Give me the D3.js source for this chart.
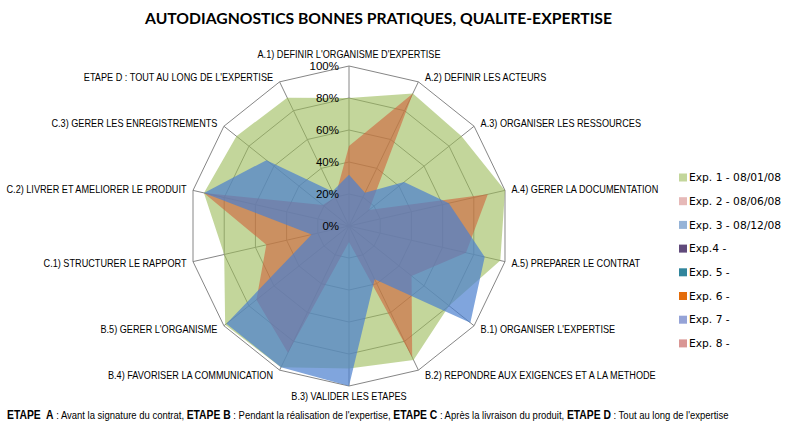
<!DOCTYPE html>
<html>
<head>
<meta charset="utf-8">
<script src="https://cdn.jsdelivr.net/npm/d3@7"></script>
<style>
  html, body { margin: 0; padding: 0; background: #fff; }
  svg { display: block; }
</style>
</head>
<body>
<svg id="chart" width="789" height="430"></svg>
<script>
// ---------- data ----------
const categories = [
  "A.1) DEFINIR L'ORGANISME D'EXPERTISE",
  "A.2) DEFINIR LES ACTEURS",
  "A.3) ORGANISER LES RESSOURCES",
  "A.4) GERER LA DOCUMENTATION",
  "A.5) PREPARER LE CONTRAT",
  "B.1) ORGANISER L'EXPERTISE",
  "B.2) REPONDRE AUX EXIGENCES ET A LA METHODE",
  "B.3) VALIDER LES ETAPES",
  "B.4) FAVORISER LA COMMUNICATION",
  "B.5) GERER L'ORGANISME",
  "C.1) STRUCTURER LE RAPPORT",
  "C.2) LIVRER ET AMELIORER LE PRODUIT",
  "C.3) GERER LES ENREGISTREMENTS",
  "ETAPE D : TOUT AU LONG DE L'EXPERTISE"
];
const exp1 = [80, 92, 90, 100, 97, 80, 93, 89, 98, 99, 80, 93, 90, 89];
const exp2 = [50, 92, 16, 89, 75, 50, 91, 10, 88, 74, 53, 93, 21, 20];
const exp3 = [32, 23, 44, 64, 87, 97, 37, 100, 98, 98, 24, 93, 66, 24];
const exp4 = [];
const exp5 = [];
const exp6 = [];
const exp7 = [];
const exp8 = [];
const seriesNames = ["Exp. 1 - 08/01/08", "Exp. 2 - 08/06/08", "Exp. 3 - 08/12/08",
  "Exp.4 -", "Exp. 5 -", "Exp. 6 -", "Exp. 7 -", "Exp. 8 -"];
const seriesValues = [exp1, exp2, exp3, exp4, exp5, exp6, exp7, exp8];
const tickValues = [0, 20, 40, 60, 80, 100];
const tickLabels = ["0%", "20%", "40%", "60%", "80%", "100%"];
const titleText = "AUTODIAGNOSTICS BONNES PRATIQUES, QUALITE-EXPERTISE";
const footerParts = [
  ["ETAPE  A", true], [" : Avant la signature du contrat, ", false],
  ["ETAPE B", true], [" : Pendant la réalisation de l'expertise, ", false],
  ["ETAPE C", true], [" : Après la livraison du produit, ", false],
  ["ETAPE D", true], [" : Tout au long de l'expertise", false]
];

// ---------- styles ----------
const fillColors = ["#9bbb59", "#d0603a", "#4a7fcf", "#8064a2", "#4bacc6", "#f79646", "#7f8fcf", "#c0504d"];
const fillOpacity = [0.6, 0.6, 0.7, 0.6, 0.6, 0.6, 0.6, 0.6];
const legendColors = ["#c3d69b", "#e6b9b8", "#95b3d7", "#604a7b", "#31859c", "#e46c0a", "#95a3d7", "#d99694"];
const narrowFont = "'Liberation Sans', Arial, sans-serif";

const svg = d3.select("#chart");
svg.append("rect").attr("width", 789).attr("height", 430).attr("fill", "#fff");

const cx = 349, cy = 226, R = 160;
const n = categories.length;
const r = d3.scaleLinear().domain([0, 100]).range([0, R]);
const angle = d3.scaleLinear().domain([0, n]).range([0, 2 * Math.PI]);

const g = svg.append("g").attr("transform", `translate(${cx},${cy})`);

// grid polygons
const gridLine = d3.lineRadial().curve(d3.curveLinearClosed)
  .angle((d, i) => angle(i)).radius(d => r(d));
tickValues.filter(v => v > 0).forEach(v => {
  g.append("path").attr("d", gridLine(categories.map(() => v)))
    .attr("fill", "none").attr("stroke", "#868686").attr("stroke-width", 1);
});
// spokes
categories.forEach((c, i) => {
  const a = angle(i);
  g.append("line").attr("x1", 0).attr("y1", 0)
    .attr("x2", r(100) * Math.sin(a)).attr("y2", -r(100) * Math.cos(a))
    .attr("stroke", "#868686").attr("stroke-width", 1);
});

// series
const area = d3.lineRadial().curve(d3.curveLinearClosed)
  .angle((d, i) => angle(i)).radius(d => r(d));
seriesValues.forEach((vals, s) => {
  if (!vals.length) return;
  g.append("path").attr("d", area(vals))
    .attr("fill", fillColors[s]).attr("fill-opacity", fillOpacity[s]).attr("stroke", "none");
});

// tick labels
tickValues.forEach((v, i) => {
  g.append("text").attr("x", -10).attr("y", -r(v)).attr("dy", "0.35em")
    .attr("text-anchor", "end").attr("font-family", "'Liberation Sans', Arial, sans-serif")
    .attr("font-size", 11.5).attr("fill", "#000").text(tickLabels[i]);
});

// category labels (Arial-like font horizontally condensed to mimic Arial Narrow)
const probe = svg.append("text").attr("font-family", narrowFont).attr("font-size", 11)
  .text(categories[0]);
const labelScale = 183 / probe.node().getComputedTextLength();
probe.remove();
categories.forEach((c, i) => {
  const a = angle(i), s = Math.sin(a), co = Math.cos(a);
  const vx = r(100) * s, vy = -r(100) * co;
  let x, y, anchor;
  if (Math.abs(s) < 0.01) {
    anchor = "middle"; x = vx; y = vy + (co > 0 ? -12 : 10);
  } else {
    anchor = s > 0 ? "start" : "end";
    x = vx + (s > 0 ? 6.5 : -6.5);
    y = vy - 5 * co;
  }
  g.append("text").attr("transform", `translate(${x},${y}) scale(${labelScale},1)`)
    .attr("dy", "0.35em").attr("font-family", narrowFont)
    .attr("text-anchor", anchor).attr("font-size", 11).attr("fill", "#000").text(c);
});

// title
svg.append("text").attr("x", 378.5).attr("y", 24).attr("text-anchor", "middle")
  .attr("font-family", "Lato, 'Open Sans', sans-serif").attr("font-weight", "bold")
  .attr("font-size", 15.5).attr("fill", "#000")
  .attr("textLength", 467).attr("lengthAdjust", "spacingAndGlyphs").text(titleText);

// legend
const legend = svg.append("g").attr("transform", "translate(679,0)");
seriesNames.forEach((name, i) => {
  const y = 177.5 + i * 23.7;
  legend.append("rect").attr("x", 0).attr("y", y - 4).attr("width", 8).attr("height", 8)
    .attr("fill", legendColors[i]);
  legend.append("text").attr("x", 10).attr("y", y).attr("dy", "0.35em")
    .attr("font-family", "'DejaVu Sans', Verdana, sans-serif").attr("font-size", 10.7)
    .attr("fill", "#000").text(name);
});

// footer (condensed by a horizontal scale to the reference width)
const foot = svg.append("text").attr("font-family", narrowFont).attr("font-size", 11)
  .attr("fill", "#000").attr("xml:space", "preserve");
footerParts.forEach(([t, b]) => {
  foot.append("tspan").attr("font-weight", b ? "bold" : "normal")
    .attr("font-size", b ? 12 : 11).text(t);
});
const fw = foot.node().getComputedTextLength();
foot.attr("transform", `translate(7,419) scale(${722 / fw},1)`);
</script>
</body>
</html>
